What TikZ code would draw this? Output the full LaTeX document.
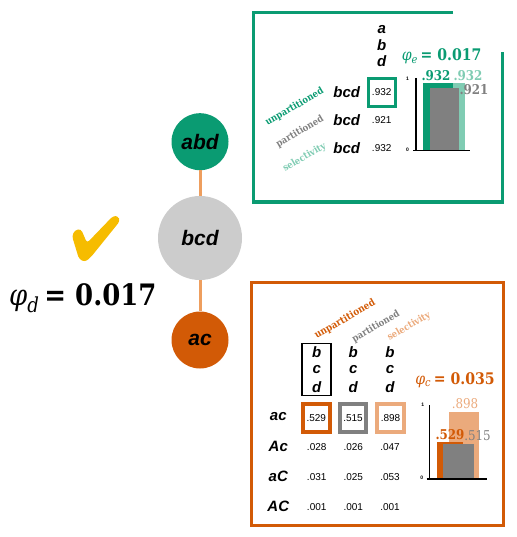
\documentclass[tikz,border=0pt]{standalone}
\usepackage{fontspec}
\setsansfont{Liberation Sans}
\newfontfamily\slab{DejaVu Serif}[FakeStretch=0.88]
\definecolor{grn}{HTML}{0A9B72}
\definecolor{lgrn}{HTML}{80CCB3}
\definecolor{gry}{HTML}{808080}
\definecolor{org}{HTML}{D25A06}
\definecolor{lorg}{HTML}{EBAA7C}
\definecolor{edgec}{HTML}{EE9E5E}
\definecolor{ckc}{HTML}{F6BC00}
\definecolor{bcdfill}{HTML}{CCCCCC}
\tikzset{
  vlab/.style={font=\sffamily\bfseries\itshape\fontsize{15}{15}\selectfont, inner sep=0pt},
  val/.style={font=\sffamily\fontsize{10}{10}\selectfont, inner sep=0pt},
  rotlab/.style={rotate=30, font=\slab\bfseries\fontsize{9.6}{9.6}\selectfont, inner sep=0pt},
  circ/.style={circle, inner sep=0pt, font=\sffamily\bfseries\itshape\fontsize{21}{21}\selectfont},
  phil/.style={font=\slab\fontsize{16}{16}\selectfont, inner sep=0pt},
  barnum/.style={font=\slab\bfseries\fontsize{13.5}{13.5}\selectfont, inner sep=0pt},
  barnumr/.style={font=\slab\fontsize{13.5}{13.5}\selectfont, inner sep=0pt},
  tick/.style={font=\sffamily\bfseries\fontsize{5}{5}\selectfont, inner sep=0pt},
  gedge/.style={edgec, line width=3pt},
}
\begin{document}
\begin{tikzpicture}[x=1pt,y=-1pt]
\useasboundingbox (0,0) rectangle (516,537);
% ---- graph ----
\node[circ, fill=grn, minimum size=57pt] (abd) at (200,141.7) {abd};
\node[circ, fill=bcdfill, minimum size=84pt] (bcd) at (200,238) {bcd};
\node[circ, fill=org, minimum size=57pt] (ac) at (200,340) {ac};
\draw[gedge] (abd) -- (bcd);
\draw[gedge] (bcd) -- (ac);
% check mark
\fill[ckc, rounded corners=3pt] (72,236) -- (75,230) -- (81,229) -- (87,243) -- (113,216) -- (118,216) -- (120,221) -- (91,257) -- (85,262) -- (79,259) -- cycle;
\node[inner sep=0pt, font=\slab\fontsize{29.5}{29.5}\selectfont, anchor=base west] (phid) at (9,305) {{\itshape φ\textsubscript{d}}\,{\bfseries = 0.017}};
% ---- green box ----
\draw[grn, line width=3pt] (453,13) -- (253,13) -- (253,202) -- (502,202) -- (502,52);
\node[vlab] (ga) at (381.7,30) {a};
\node[vlab] (gb) at (381.7,45.5) {b};
\node[vlab] (gd) at (381.7,61.5) {d};
\node[vlab] (gr1) at (346.7,91.7) {bcd};
\node[vlab] (gr2) at (346.7,120) {bcd};
\node[vlab] (gr3) at (346.7,148) {bcd};
\node[val, draw=grn, line width=3pt, minimum width=27pt, minimum height=28pt] (gv1) at (381.7,92.2) {.932};
\node[val] (gv2) at (381.7,120) {.921};
\node[val] (gv3) at (381.7,148) {.932};
\node[rotlab, text=grn] (gl1) at (294.5,107) {unpartitioned};
\node[rotlab, text=gry] (gl2) at (300,131.5) {partitioned};
\node[rotlab, text=lgrn] (gl3) at (304.5,157.5) {selectivity};
\node[phil, text=grn] (phie) at (441.7,56.7) {{\itshape φ\textsubscript{e}}\,{\bfseries = 0.017}};
% green chart
\fill[lgrn] (423,83.3) rectangle (465,150);
\fill[grn] (423,83.3) rectangle (453,150);
\fill[gry] (430,87.7) rectangle (459,150);
\draw[black, line width=1.5pt] (416,78) -- (416,151.5);
\draw[black, line width=1.5pt] (413,150.5) -- (470,150.5);
\node[tick] (g1) at (407.5,79) {1};
\node[tick] (g0) at (407.5,149.5) {0};
\node[barnum, text=grn] (gn1) at (436,75.5) {.932};
\node[barnum, text=lgrn] (gn2) at (468,75.5) {.932};
\node[barnum, text=gry] (gn3) at (474,89.5) {.921};
% ---- orange box ----
\draw[org, line width=3pt] (251.7,282.7) rectangle (503,525);
\node[rotlab, text=org, font=\slab\bfseries\fontsize{10}{10}\selectfont] (ol1) at (345,319.5) {unpartitioned};
\node[rotlab, text=gry] (ol2) at (376,326.5) {partitioned};
\node[rotlab, text=lorg] (ol3) at (409,326.5) {selectivity};
\foreach \cx/\nm in {316.7/a,353.3/b,390/c}{
  \node[vlab] (h\nm b) at (\cx,351.7) {b};
  \node[vlab] (h\nm c) at (\cx,369.5) {c};
  \node[vlab] (h\nm d) at (\cx,387.3) {d};
}
\node[draw=black, line width=1.5pt, minimum width=29pt, minimum height=52pt, inner sep=0pt] (hbox) at (316.3,369.3) {};
\node[vlab] (r1) at (278.3,416.7) {ac};
\node[vlab] (r2) at (278.3,446.7) {Ac};
\node[vlab] (r3) at (278.3,476.7) {aC};
\node[vlab] (r4) at (278.3,506.7) {AC};
\node[val, draw=org, line width=4pt, minimum width=26.7pt, minimum height=28.3pt] (v11) at (316.3,417.8) {.529};
\node[val, draw=gry, line width=4pt, minimum width=26.7pt, minimum height=28.3pt] (v12) at (353,417.8) {.515};
\node[val, draw=lorg, line width=4pt, minimum width=26.7pt, minimum height=28.3pt] (v13) at (390.5,417.8) {.898};
\node[val] (v21) at (316.7,446.7) {.028};
\node[val] (v22) at (353.3,446.7) {.026};
\node[val] (v23) at (390,446.7) {.047};
\node[val] (v31) at (316.7,476.7) {.031};
\node[val] (v32) at (353.3,476.7) {.025};
\node[val] (v33) at (390,476.7) {.053};
\node[val] (v41) at (316.7,506.7) {.001};
\node[val] (v42) at (353.3,506.7) {.001};
\node[val] (v43) at (390,506.7) {.001};
\node[phil, text=org] (phic) at (455,380) {{\itshape φ\textsubscript{c}}\,{\bfseries = 0.035}};
% orange chart
\fill[lorg] (449.3,411.5) rectangle (479.3,478.5);
\fill[org] (436.7,441.7) rectangle (463,478.5);
\fill[gry] (443.3,444) rectangle (474,478.5);
\draw[black, line width=1.5pt] (429.7,405) -- (429.7,480);
\draw[black, line width=1.5pt] (426.7,479) -- (486.7,479);
\node[tick] (o1) at (422.7,405) {1};
\node[tick] (o0) at (421.7,478) {0};
\node[barnum, text=org] (on1) at (450,434.5) {.529};
\node[barnumr, text=gry] (on2) at (477.5,436) {.515};
\node[barnumr, text=lorg] (on3) at (465,403.5) {.898};
\end{tikzpicture}
\end{document}
